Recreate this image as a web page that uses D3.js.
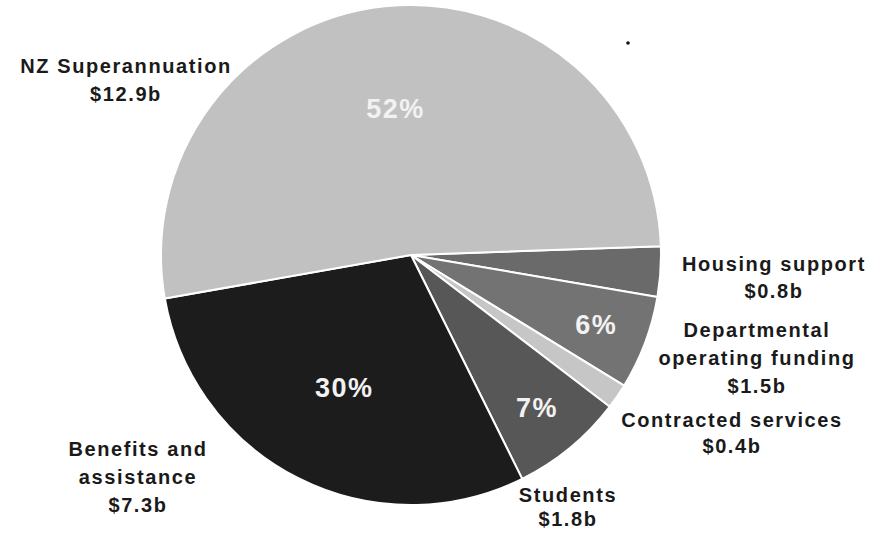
<!DOCTYPE html>
<html>
<head>
<meta charset="utf-8">
<script src="https://cdn.jsdelivr.net/npm/d3@7"></script>
<style>
	html, body { margin: 0; padding: 0; background: #fff; }
	svg text { font-family: "Liberation Sans", Arial, sans-serif; font-weight: bold; }
</style>
</head>
<body>
<svg id="chart" width="871" height="533"></svg>
<script>
// slice order runs clockwise from the right side of the pie
const categories = ['Housing support', 'Departmental operating funding', 'Contracted services', 'Students', 'Benefits and assistance', 'NZ Superannuation'];
const amounts = [0.8, 1.5, 0.4, 1.8, 7.3, 12.9];
const amountLabels = ['$0.8b', '$1.5b', '$0.4b', '$1.8b', '$7.3b', '$12.9b'];
const percentLabels = ['', '6%', '', '7%', '30%', '52%'];
const labelLines = [
	['Housing support'],
	['Departmental', 'operating funding'],
	['Contracted services'],
	['Students'],
	['Benefits and', 'assistance'],
	['NZ Superannuation']
];

const colours = ['#6a6a6a', '#737373', '#c6c6c6', '#575757', '#1c1c1c', '#c1c1c1'];

// outer label anchors (centre x, first baseline, line height)
const labelAnchors = [
	[774, 271, 27],
	[757, 337, 28],
	[732, 427, 26],
	[568, 502, 24],
	[138, 456, 28],
	[126, 73, 28]
];

const cx = 411;
const cy = 255;
const radius = 250;
const startDeg = 88;

const svg = d3.select('#chart');

const pie = d3.pie()
	.sort(null)
	.value(function(d) { return d; })
	.startAngle(startDeg * Math.PI / 180)
	.endAngle((startDeg + 360) * Math.PI / 180);

const arcs = pie(amounts);

const arc = d3.arc()
	.innerRadius(0)
	.outerRadius(radius);

const g = svg.append('g')
	.attr('transform', 'translate(' + cx + ',' + cy + ')');

g.selectAll('path.slice')
	.data(arcs)
	.enter()
	.append('path')
	.attr('class', 'slice')
	.attr('d', arc)
	.style('fill', function(d, i) { return colours[i]; })
	.style('stroke', '#fff')
	.style('stroke-width', 2)
	.style('stroke-linejoin', 'round');

// percentages inside the slices
const total = d3.sum(amounts);
g.selectAll('text.pct')
	.data(arcs)
	.enter()
	.append('text')
	.attr('class', 'pct')
	.attr('transform', function(d) {
		let share = d.value / total;
		let r = share > 0.2 ? 148 : 198;
		let c = d3.arc().innerRadius(r).outerRadius(r).centroid(d);
		return 'translate(' + c[0] + ',' + c[1] + ')';
	})
	.attr('text-anchor', 'middle')
	.attr('dy', '0.36em')
	.style('font-size', '27px')
	.style('letter-spacing', '1.5px')
	.style('fill', '#f2f2f2')
	.text(function(d, i) { return percentLabels[i]; });

// category labels outside the pie
categories.forEach(function(name, i) {
	let lines = labelLines[i].concat([amountLabels[i]]);
	let anchor = labelAnchors[i];
	let t = svg.append('text')
		.attr('text-anchor', 'middle')
		.style('font-size', '20px')
		.style('letter-spacing', '1.6px')
		.style('fill', '#1a1a1a');

	lines.forEach(function(line, j) {
		t.append('tspan')
			.attr('x', anchor[0])
			.attr('y', anchor[1] + j * anchor[2])
			.text(line);
	});
});

// stray dot from the original scan
svg.append('circle')
	.attr('cx', 628)
	.attr('cy', 43)
	.attr('r', 1.8)
	.style('fill', '#111');
</script>
</body>
</html>
